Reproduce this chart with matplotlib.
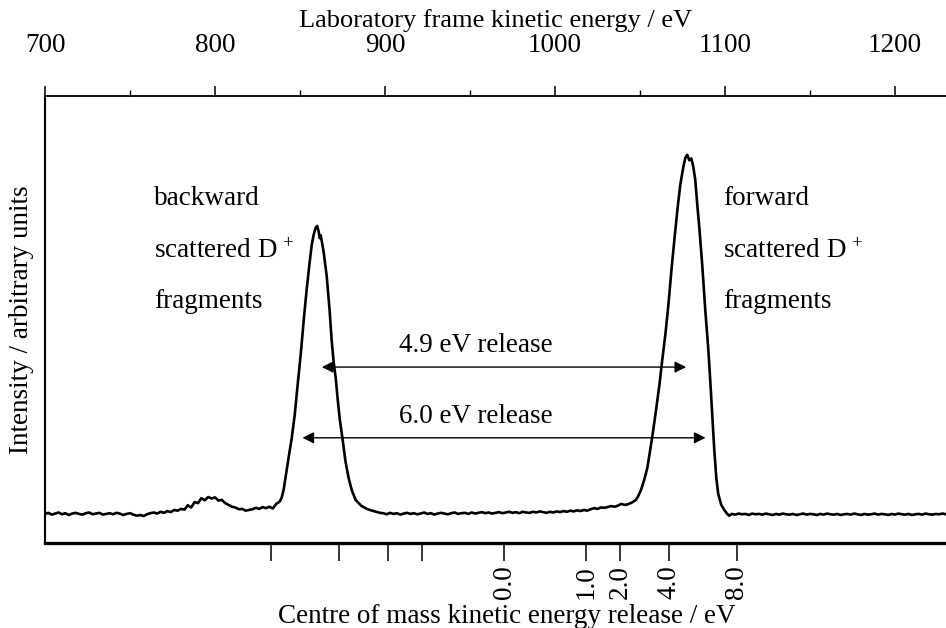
import numpy as np
import matplotlib.pyplot as plt
from matplotlib.ticker import FixedLocator

plt.rcParams["font.family"] = ["Liberation Serif", "DejaVu Serif"]
plt.rcParams["mathtext.fontset"] = "custom"
plt.rcParams["mathtext.rm"] = "Liberation Serif"
plt.rcParams["mathtext.it"] = "Liberation Serif:italic"

FS = 19.5

# --- spectrum (lab-frame energy in eV, intensity in counts, fwd peak = 1000) ---
baseline_low_e = np.arange(700, 764, 2)
baseline_low_i = [0, 3, -2, 1, 4, -1, 2, -3, 1, 3, 0, -2, 2, 4, -1, 1,
                  3, -2, 0, 2, -1, 3, 1, -3, 0, 2, -2, -5, -3, -6, -1, 2]

bump_e = np.arange(764, 840, 2)
bump_i = [4, 1, 6, 3, 8, 5, 11, 9, 14, 12, 24, 18, 33, 30, 44, 38, 47, 43, 46,
          37, 39, 30, 25, 20, 18, 13, 14, 9, 11, 13, 17, 14, 19, 16, 20, 15, 28, 34]

backward_e = [839.2, 840.4, 841.6, 843.4, 845.1, 846.9, 848.6, 850.4, 852.2, 853.9,
              855.7, 856.9, 858.0, 859.2, 860.1, 861.0, 861.6, 862.2, 862.7, 863.9,
              865.7, 867.4, 868.6, 869.8, 871.0, 872.1, 873.3, 875.1, 876.8, 878.6,
              880.4, 882.7, 886.2, 889.0, 891.0, 894.0, 897.0]
backward_i = [45, 68, 105, 160, 210, 276, 359, 443, 540, 624,
              702, 749, 777, 797, 802, 786, 768, 776, 762, 730,
              663, 568, 485, 423, 379, 323, 267, 206, 145, 100,
              67, 39, 22, 15, 11, 7, 3]

valley_e = np.arange(899, 1047, 2)
valley_i = [2, -1, 3, 0, 2, -2, 1, 3, 0, 2, -1, 1, 4, 0, 2, -2, 1, 3, 1, -1,
            2, 4, 0, 2, 3, 0, 4, 1, 3, 5, 2, 4, 1, 3, 5, 2, 4, 6, 3, 5,
            2, 6, 4, 3, 6, 4, 7, 5, 3, 6, 4, 7, 5, 8, 6, 9, 7, 10, 8, 11,
            9, 13, 16, 14, 18, 17, 19, 22, 20, 23, 28, 25, 27, 31]

forward_e = [1047.6, 1049.0, 1050.6, 1052.5, 1054.3, 1056.0, 1057.8, 1059.6, 1061.4, 1063.1,
             1064.9, 1066.7, 1068.4, 1070.2, 1072.0, 1073.7, 1075.5, 1076.7, 1077.8, 1079.0,
             1080.2, 1081.3, 1082.5, 1083.7, 1084.9, 1086.6, 1088.4, 1090.2, 1091.3, 1092.5,
             1093.7, 1094.9, 1096.0, 1097.8, 1099.6, 1101.3, 1102.5]
forward_i = [39, 50, 67, 95, 128, 178, 234, 295, 359, 429,
             499, 582, 674, 763, 847, 917, 967, 992, 1000, 985,
             990, 968, 931, 861, 797, 694, 568, 457, 373, 276,
             178, 100, 56, 25, 11, 0, -5]

baseline_high_e = np.arange(1104, 1232, 2)
baseline_high_i = [0, -2, 1, -1, 0, -3, 1, -1, 0, -2, 1, -1, -3, 0, -2, 1,
                   -1, -2, 0, -3, -1, 1, -2, 0, -1, -3, 0, -2, 1, -1, -2, 0,
                   -3, -1, 0, -2, 1, -1, -3, 0, -2, -1, 1, -2, 0, -1, -3, 0,
                   -2, 1, -1, -2, 0, -3, -1, 0, -2, 1, -1, -2, 0, -1, 1, -1]

# lab-frame axis ticks
lab_major = [700, 800, 900, 1000, 1100, 1200]
lab_minor = [750, 850, 950, 1050, 1150]

# centre-of-mass release scale, mapped onto lab energy
cm_centre_ev = 970.0
cm_scale = 48.4          # eV of lab energy per sqrt(eV) of release
ker_ticks = [0.0, 1.0, 2.0, 4.0, 8.0]
releases = [4.9, 6.0]


def lab_energy(ker, sign=1):
    return cm_centre_ev + sign * cm_scale * np.sqrt(ker)


energy = np.concatenate([baseline_low_e, bump_e, backward_e, valley_e, forward_e, baseline_high_e])
counts = np.concatenate([baseline_low_i, bump_i, backward_i, valley_i, forward_i, baseline_high_i])

fig = plt.figure(figsize=(9.46, 6.28), dpi=100)
ax = fig.add_axes([45 / 946, 85 / 628, 901 / 946, 447 / 628])

ax.plot(energy, counts, color="black", lw=1.9, solid_joinstyle="round")
ax.set_xlim(700, 1230)
ax.set_ylim(-81, 1164)
ax.set_yticks([])

for side in ("top", "right"):
    ax.spines[side].set_visible(False)
ax.spines["left"].set_linewidth(1.5)
ax.spines["bottom"].set_linewidth(2.4)

# bottom axis: kinetic energy release ticks, forward side labelled
fwd_pos = [lab_energy(v) for v in ker_ticks]
bwd_pos = [lab_energy(v, -1) for v in ker_ticks[1:]]
ax.set_xticks(bwd_pos + fwd_pos)
ax.set_xticklabels([""] * len(bwd_pos) + [f"{v:.1f}" for v in ker_ticks], rotation=90)
ax.tick_params(axis="x", direction="out", length=13, width=1.1, pad=3, labelsize=FS)
ax.set_xlabel("Centre of mass kinetic energy release / eV", fontsize=FS)
ax.xaxis.set_label_coords((507 - 45) / 901, -0.136)
ax.xaxis.label.set_va("top")

# top axis: laboratory frame energy
top = ax.secondary_xaxis("top")
top.xaxis.set_major_locator(FixedLocator(lab_major))
top.xaxis.set_minor_locator(FixedLocator(lab_minor))
top.tick_params(which="major", direction="out", length=7.5, width=1.1, pad=20, labelsize=FS)
top.tick_params(which="minor", direction="out", length=4, width=1.0)
top.spines["top"].set_linewidth(1.3)
top.set_xlabel("Laboratory frame kinetic energy / eV", fontsize=19, labelpad=4)

fig.text(22 / 946, 1 - 320 / 628, "Intensity / arbitrary units", rotation=90,
         ha="center", va="center", fontsize=FS)

# release arrows
arrow_y = [409, 212]
text_y = [451, 254]
for rel, ya, yt in zip(releases, arrow_y, text_y):
    ax.annotate("", xy=(lab_energy(rel, -1), ya), xytext=(lab_energy(rel), ya),
                arrowprops=dict(arrowstyle="<|-|>", color="black", lw=1.0,
                                mutation_scale=17, shrinkA=0, shrinkB=0))
    ax.text(953.5, yt, f"{rel:.1f} eV release", ha="center", va="baseline", fontsize=FS)

# peak captions
for x0, word in ((764, "backward"), (1099, "forward")):
    ax.text(x0, 861, word, fontsize=FS, va="baseline")
    ax.text(x0, 712, r"scattered D$^{\,+}$", fontsize=FS, va="baseline")
    ax.text(x0, 573, "fragments", fontsize=FS, va="baseline")

fig.savefig("out.png", dpi=100)
